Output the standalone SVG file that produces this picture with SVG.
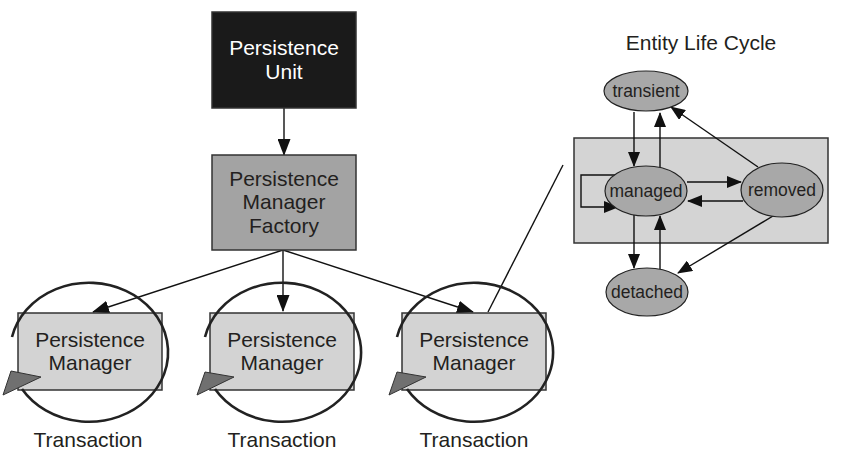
<svg xmlns="http://www.w3.org/2000/svg" width="846" height="460" viewBox="0 0 846 460">
<defs>
<marker id="ah" markerWidth="17" markerHeight="13" refX="16" refY="6.5" orient="auto" markerUnits="userSpaceOnUse">
<path d="M0,0 L17,6.5 L0,13 Z" fill="#111"/>
</marker>
<marker id="as" markerWidth="15" markerHeight="12" refX="14" refY="6" orient="auto" markerUnits="userSpaceOnUse">
<path d="M0,0 L15,6 L0,12 Z" fill="#111"/>
</marker>
</defs>
<style>
.t{font-family:"Liberation Sans",Arial,sans-serif;font-size:21px;fill:#231f20;text-anchor:middle}
.w{fill:#fff}
.s{font-size:17.5px}
.box{stroke:#333;stroke-width:1.5}
.ell{fill:#a8a8a8;stroke:#222;stroke-width:1.2}
.c{fill:none;stroke:#111;stroke-width:1.4}
.cyc{fill:none;stroke:#222;stroke-width:2.6}
.tri{fill:#707070;stroke:#333;stroke-width:1}
</style>
<rect width="846" height="460" fill="#fff"/>

<g id="connectors">
<line class="c" x1="284" y1="108" x2="284" y2="155" marker-end="url(#ah)"/>
<line class="c" x1="283" y1="250" x2="93" y2="312" marker-end="url(#ah)"/>
<line class="c" x1="283" y1="250" x2="283" y2="311" marker-end="url(#ah)"/>
<line class="c" x1="283" y1="250" x2="473" y2="312" marker-end="url(#ah)"/>
<line class="c" x1="488" y1="312" x2="563" y2="165"/>
</g>

<g id="persistence-unit">
<rect class="box" x="212" y="12" width="144" height="96" fill="#1a1a1a"/>
<text class="t w" x="284" y="55">Persistence</text>
<text class="t w" x="284" y="79">Unit</text>
</g>

<g id="factory">
<rect class="box" x="212" y="155" width="144" height="95" fill="#a3a3a3"/>
<text class="t" x="284" y="186">Persistence</text>
<text class="t" x="284" y="209">Manager</text>
<text class="t" x="284" y="233">Factory</text>
</g>

<g id="manager1">
<rect class="box" x="18" y="313" width="144" height="77" fill="#d3d3d3"/>
<text class="t" x="90" y="347">Persistence</text>
<text class="t" x="90" y="370">Manager</text>
<path class="cyc" d="M12,337 A79,69.5 0 1 1 22,389"/>
<polygon class="tri" points="11,371 41,377 3,395"/>
<text class="t" x="88" y="447">Transaction</text>
</g>

<g id="manager2">
<rect class="box" x="210" y="313" width="144" height="77" fill="#d3d3d3"/>
<text class="t" x="282" y="347">Persistence</text>
<text class="t" x="282" y="370">Manager</text>
<path class="cyc" d="M205,337 A79,69.5 0 1 1 215,389"/>
<polygon class="tri" points="205,372 234,377 197,395"/>
<text class="t" x="282" y="447">Transaction</text>
</g>

<g id="manager3">
<rect class="box" x="402" y="313" width="144" height="77" fill="#d3d3d3"/>
<text class="t" x="474" y="347">Persistence</text>
<text class="t" x="474" y="370">Manager</text>
<path class="cyc" d="M397,337 A79,69.5 0 1 1 407,389"/>
<polygon class="tri" points="397,372 426,377 389,395"/>
<text class="t" x="474" y="447">Transaction</text>
</g>

<g id="lifecycle">
<text class="t" x="701" y="50">Entity Life Cycle</text>
<rect class="box" x="574" y="138" width="254" height="105" fill="#d4d4d4"/>
</g>

<g id="lifecycle-connectors">
<line class="c" x1="634" y1="112" x2="634" y2="166" marker-end="url(#as)"/>
<line class="c" x1="660" y1="167" x2="660" y2="113" marker-end="url(#as)"/>
<line class="c" x1="687" y1="182" x2="741" y2="182" marker-end="url(#as)"/>
<line class="c" x1="743" y1="201" x2="688" y2="201" marker-end="url(#as)"/>
<line class="c" x1="758" y1="167" x2="671" y2="107" marker-end="url(#as)"/>
<line class="c" x1="634" y1="215" x2="634" y2="268" marker-end="url(#as)"/>
<line class="c" x1="660" y1="269" x2="660" y2="216" marker-end="url(#as)"/>
<line class="c" x1="773" y1="216" x2="678" y2="273" marker-end="url(#as)"/>
<path class="c" d="M616,175 H581 V207 H618" marker-end="url(#as)"/>
</g>

<g id="transient">
<ellipse class="ell" cx="646" cy="91" rx="42" ry="20"/>
<text class="t s" x="646" y="97">transient</text>
</g>
<g id="managed">
<ellipse class="ell" cx="646" cy="191" rx="41" ry="25"/>
<text class="t s" x="646" y="197">managed</text>
</g>
<g id="removed">
<ellipse class="ell" cx="782" cy="190" rx="41" ry="27"/>
<text class="t s" x="782" y="196">removed</text>
</g>
<g id="detached">
<ellipse class="ell" cx="647" cy="292" rx="41" ry="24"/>
<text class="t s" x="647" y="298">detached</text>
</g>
</svg>
